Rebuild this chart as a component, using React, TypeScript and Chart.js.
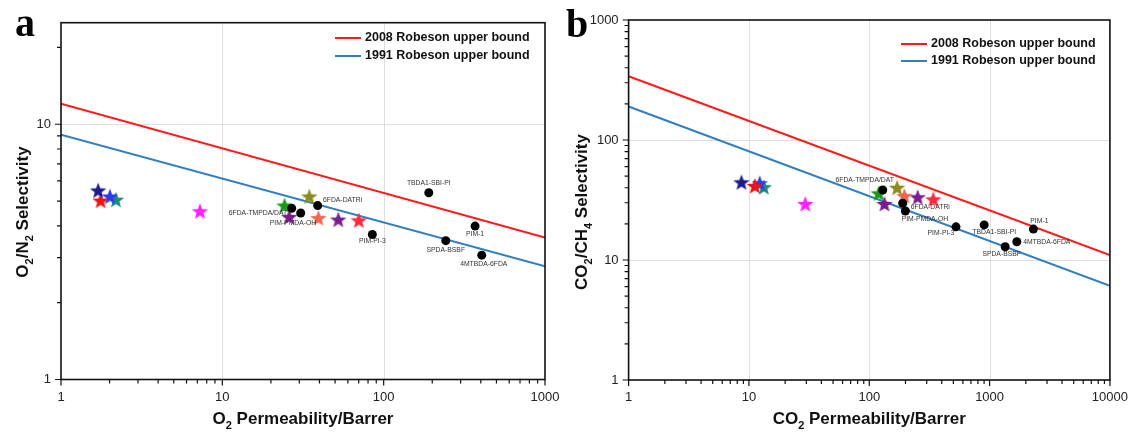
import React, { useEffect, useRef } from 'react';
import { Chart, registerables } from 'chart.js';

Chart.register(...registerables);

// ---------- data ----------
const starColors = ['#1c1c8c', '#ee1414', '#2a3cf0', '#1b8a7e', '#ff22ff', '#1a961a', '#7d1a8c', '#8c8c1e', '#ee6650', '#7a1f8f', '#ff2a40'];

const o2StarX = [1.70, 1.76, 2.01, 2.19, 7.27, 24.3, 26.0, 34.6, 39.4, 52.3, 70.1];
const o2StarY = [5.50, 5.02, 5.21, 5.06, 4.56, 4.80, 4.33, 5.21, 4.29, 4.23, 4.20];

const co2StarX = [8.67, 11.2, 12.3, 13.3, 29.4, 119.9, 133.7, 170.3, 195.8, 252.6, 340.6];
const co2StarY = [44.4, 41.4, 43.6, 40.4, 29.3, 35.9, 29.3, 40.0, 34.1, 33.3, 32.0];

const o2PolyNames = ['6FDA-TMPDA/DAT', 'PIM-PMDA-OH', '6FDA-DATRi', 'TBDA1-SBI-PI', 'PIM-1', 'PIM-PI-3', 'SPDA-BSBF', '4MTBDA-6FDA'];
const o2PolyX = [26.9, 30.6, 39.0, 190.4, 368.6, 85.1, 242.7, 405.5];
const o2PolyY = [4.69, 4.49, 4.80, 5.39, 3.99, 3.70, 3.50, 3.07];

const co2PolyNames = ['6FDA-TMPDA/DAT', '6FDA-DATRi', 'PIM-PMDA-OH', 'PIM-PI-3', 'TBDA1-SBI-PI', 'PIM-1', '4MTBDA-6FDA', 'SPDA-BSBF'];
const co2PolyX = [129.4, 189.6, 199.6, 525.6, 902, 2312, 1684, 1347];
const co2PolyY = [38.3, 29.7, 25.6, 18.9, 19.6, 18.1, 14.2, 12.9];

const o2BoundX = [1, 1000];
const o2Bound2008 = [12.05, 3.6];
const o2Bound1991 = [9.1, 2.78];

const co2BoundX = [1, 10000];
const co2Bound2008 = [340, 11];
const co2Bound1991 = [190, 6.1];

const o2XTicks = [1, 10, 100, 1000];
const o2YTicks = [1, 10];
const co2XTicks = [1, 10, 100, 1000, 10000];
const co2YTicks = [1, 10, 100, 1000];

const legendLabels = ['2008 Robeson upper bound', '1991 Robeson upper bound'];
const legendColors = ['#ff1a1a', '#2f7fc1'];

// ---------- layout / style ----------
const W = 566;
const H = 435;
const SANS = '"Liberation Sans", Arial, sans-serif';

type Part = [string, boolean];
type Place = [number, number, CanvasTextAlign];

interface Panel {
  letter: string;
  letterX: number;
  letterY: number;
  xMin: number; xMax: number; yMin: number; yMax: number;
  xTicks: number[]; yTicks: number[];
  area: { left: number; top: number; right: number; bottom: number };
  xTitle: Part[]; yTitle: Part[];
  yTitleX: number; yTitleY: number;
  legendX: number; legendY: number[];
  starX: number[]; starY: number[];
  polyNames: string[]; polyX: number[]; polyY: number[];
  place: Place[];
  boundX: number[]; b2008: number[]; b1991: number[];
}

const o2Place: Place[] = [[-4.5, 5, 'right'], [-7.7, 10.5, 'center'], [5.3, -6, 'left'], [0, -9.5, 'center'], [0, 8.5, 'center'], [0, 7, 'center'], [0, 9, 'center'], [2, 8.5, 'center']];
const co2Place: Place[] = [[-18, -10, 'center'], [8, 4, 'left'], [19.5, 8.3, 'center'], [-15, 6, 'center'], [10, 7.3, 'center'], [6, -8.3, 'center'], [6.3, 0, 'left'], [-3.5, 7.3, 'center']];

const panels: Panel[] = [
  {
    letter: 'a', letterX: 15, letterY: 36,
    xMin: 1, xMax: 1000, yMin: 1, yMax: 25,
    xTicks: o2XTicks, yTicks: o2YTicks,
    area: { left: 61, top: 22.7, right: 545, bottom: 379.5 },
    xTitle: [['O', false], ['2', true], [' Permeability/Barrer', false]],
    yTitle: [['O', false], ['2', true], ['/N', false], ['2', true], [' Selectivity', false]],
    yTitleX: 22, yTitleY: 212,
    legendX: 335, legendY: [38, 56],
    starX: o2StarX, starY: o2StarY,
    polyNames: o2PolyNames, polyX: o2PolyX, polyY: o2PolyY, place: o2Place,
    boundX: o2BoundX, b2008: o2Bound2008, b1991: o2Bound1991,
  },
  {
    letter: 'b', letterX: 0, letterY: 37,
    xMin: 1, xMax: 10000, yMin: 1, yMax: 1000,
    xTicks: co2XTicks, yTicks: co2YTicks,
    area: { left: 62.6, top: 20, right: 545, bottom: 380 },
    xTitle: [['CO', false], ['2', true], [' Permeability/Barrer', false]],
    yTitle: [['CO', false], ['2', true], ['/CH', false], ['4', true], [' Selectivity', false]],
    yTitleX: 15, yTitleY: 212,
    legendX: 335, legendY: [44, 61],
    starX: co2StarX, starY: co2StarY,
    polyNames: co2PolyNames, polyX: co2PolyX, polyY: co2PolyY, place: co2Place,
    boundX: co2BoundX, b2008: co2Bound2008, b1991: co2Bound1991,
  },
];

function makeStar(color: string): HTMLCanvasElement {
  const R = 8.6;
  const size = Math.ceil(R * 2 + 2);
  const c = document.createElement('canvas');
  c.width = size;
  c.height = size;
  const g = c.getContext('2d')!;
  const cx = size / 2;
  const cy = size / 2 + 0.6;
  const r = R * 0.42;
  g.beginPath();
  for (let i = 0; i < 10; i++) {
    const rad = (Math.PI / 5) * i - Math.PI / 2;
    const rr = i % 2 === 0 ? R : r;
    const px = cx + rr * Math.cos(rad);
    const py = cy + rr * Math.sin(rad);
    if (i === 0) g.moveTo(px, py); else g.lineTo(px, py);
  }
  g.closePath();
  g.fillStyle = color;
  g.fill();
  return c;
}

function drawRich(ctx: CanvasRenderingContext2D, parts: Part[], size: number, cx: number, cy: number) {
  const big = `bold ${size}px ${SANS}`;
  const small = `bold ${Math.round(size * 0.65)}px ${SANS}`;
  let total = 0;
  const widths = parts.map(([t, sub]) => {
    ctx.font = sub ? small : big;
    const w = ctx.measureText(t).width;
    total += w;
    return w;
  });
  let x = cx - total / 2;
  ctx.textAlign = 'left';
  ctx.textBaseline = 'alphabetic';
  const base = cy + size * 0.36;
  parts.forEach(([t, sub], i) => {
    ctx.font = sub ? small : big;
    ctx.fillText(t, x, sub ? base + size * 0.3 : base);
    x += widths[i];
  });
}

function minorValues(min: number, max: number): number[] {
  const out: number[] = [];
  for (let d = min; d < max; d *= 10) {
    for (let k = 2; k <= 9; k++) {
      const v = k * d;
      if (v < max) out.push(v);
    }
  }
  return out;
}

function makeConfig(p: Panel): any {
  const datasets: any[] = [];
  p.polyNames.forEach((n, i) => {
    datasets.push({
      label: n,
      data: [{ x: p.polyX[i], y: p.polyY[i] }],
      pointRadius: 4.5,
      pointBackgroundColor: '#000',
      pointBorderWidth: 0,
      order: 0,
    });
  });
  p.starX.forEach((x, i) => {
    datasets.push({
      label: 'star' + i,
      data: [{ x, y: p.starY[i] }],
      pointStyle: makeStar(starColors[i]),
      pointRadius: 8,
      order: 1,
    });
  });
  [p.b2008, p.b1991].forEach((b, i) => {
    datasets.push({
      label: legendLabels[i],
      data: p.boundX.map((x, j) => ({ x, y: b[j] })),
      showLine: true,
      borderColor: legendColors[i],
      borderWidth: 2,
      pointRadius: 0,
      order: 2,
    });
  });

  const decor = {
    id: 'decor' + p.letter,
    beforeDatasetsDraw(chart: any) {
      const ctx: CanvasRenderingContext2D = chart.ctx;
      const xs = chart.scales.x;
      const ys = chart.scales.y;
      const a = chart.chartArea;
      ctx.save();
      ctx.strokeStyle = '#dedede';
      ctx.lineWidth = 1;
      p.xTicks.forEach((v) => {
        if (v <= p.xMin || v >= p.xMax) return;
        const px = Math.round(xs.getPixelForValue(v)) + 0.5;
        ctx.beginPath(); ctx.moveTo(px, a.top); ctx.lineTo(px, a.bottom); ctx.stroke();
      });
      p.yTicks.forEach((v) => {
        if (v <= p.yMin || v >= p.yMax) return;
        const py = Math.round(ys.getPixelForValue(v)) + 0.5;
        ctx.beginPath(); ctx.moveTo(a.left, py); ctx.lineTo(a.right, py); ctx.stroke();
      });
      ctx.restore();
    },
    afterDatasetsDraw(chart: any) {
      const ctx: CanvasRenderingContext2D = chart.ctx;
      const xs = chart.scales.x;
      const ys = chart.scales.y;
      const a = chart.chartArea;
      ctx.save();
      // frame
      ctx.strokeStyle = '#111';
      ctx.lineWidth = 1.6;
      ctx.strokeRect(a.left, a.top, a.right - a.left, a.bottom - a.top);
      // ticks
      ctx.lineWidth = 1.2;
      ctx.beginPath();
      p.xTicks.forEach((v) => {
        const px = xs.getPixelForValue(v);
        ctx.moveTo(px, a.bottom); ctx.lineTo(px, a.bottom + 6);
      });
      minorValues(p.xMin, p.xMax).forEach((v) => {
        const px = xs.getPixelForValue(v);
        ctx.moveTo(px, a.bottom); ctx.lineTo(px, a.bottom + 4);
      });
      p.yTicks.forEach((v) => {
        const py = ys.getPixelForValue(v);
        ctx.moveTo(a.left, py); ctx.lineTo(a.left - 6, py);
      });
      minorValues(p.yMin, p.yMax).forEach((v) => {
        const py = ys.getPixelForValue(v);
        ctx.moveTo(a.left, py); ctx.lineTo(a.left - 4, py);
      });
      ctx.stroke();

      // point labels
      ctx.fillStyle = '#333';
      ctx.font = `6.8px ${SANS}`;
      ctx.textBaseline = 'middle';
      p.polyNames.forEach((n, i) => {
        const px = xs.getPixelForValue(p.polyX[i]);
        const py = ys.getPixelForValue(p.polyY[i]);
        const [dx, dy, al] = p.place[i];
        ctx.textAlign = al;
        ctx.fillText(n, px + dx, py + dy);
      });

      // legend
      legendLabels.forEach((l, i) => {
        const y = p.legendY[i];
        ctx.strokeStyle = legendColors[i];
        ctx.lineWidth = 2;
        ctx.beginPath();
        ctx.moveTo(p.legendX, y); ctx.lineTo(p.legendX + 26, y);
        ctx.stroke();
        ctx.fillStyle = '#111';
        ctx.font = `bold 12.5px ${SANS}`;
        ctx.textAlign = 'left';
        ctx.textBaseline = 'middle';
        ctx.fillText(l, p.legendX + 30, y);
      });

      // axis titles
      ctx.fillStyle = '#111';
      drawRich(ctx, p.xTitle, 17, (a.left + a.right) / 2, 418);
      ctx.save();
      ctx.translate(p.yTitleX, p.yTitleY);
      ctx.rotate(-Math.PI / 2);
      drawRich(ctx, p.yTitle, 17, 0, 0);
      ctx.restore();

      // panel letter
      ctx.fillStyle = '#000';
      ctx.font = `bold 40px "Liberation Serif", "DejaVu Serif", serif`;
      ctx.textAlign = 'left';
      ctx.textBaseline = 'alphabetic';
      ctx.fillText(p.letter, p.letterX, p.letterY);
      ctx.restore();
    },
  };

  const tickFont = { family: SANS, size: 13 };
  return {
    type: 'scatter',
    data: { datasets },
    options: {
      animation: false,
      responsive: false,
      maintainAspectRatio: false,
      layout: { padding: { left: 0, top: p.area.top, right: W - p.area.right, bottom: 0 } },
      plugins: { legend: { display: false }, tooltip: { enabled: false }, title: { display: false } },
      scales: {
        x: {
          type: 'logarithmic',
          position: 'bottom',
          min: p.xMin,
          max: p.xMax,
          afterBuildTicks: (s: any) => { s.ticks = p.xTicks.map((v) => ({ value: v })); },
          afterFit: (s: any) => { s.height = H - p.area.bottom; },
          grid: { display: true, drawOnChartArea: false, drawTicks: true, tickLength: 6, color: 'rgba(0,0,0,0)', tickColor: 'rgba(0,0,0,0)' },
          border: { display: false },
          ticks: { font: tickFont, color: '#222', padding: 4, maxRotation: 0, autoSkip: false, callback: (v: any) => String(v) },
        },
        y: {
          type: 'logarithmic',
          position: 'left',
          min: p.yMin,
          max: p.yMax,
          afterBuildTicks: (s: any) => { s.ticks = p.yTicks.map((v) => ({ value: v })); },
          afterFit: (s: any) => { s.width = p.area.left; },
          grid: { display: true, drawOnChartArea: false, drawTicks: true, tickLength: 6, color: 'rgba(0,0,0,0)', tickColor: 'rgba(0,0,0,0)' },
          border: { display: false },
          ticks: { font: tickFont, color: '#222', padding: 4, autoSkip: false, callback: (v: any) => String(v) },
        },
      },
    },
    plugins: [decor],
  };
}

function PanelChart({ panel, left }: { panel: Panel; left: number }) {
  const ref = useRef<HTMLCanvasElement>(null);
  useEffect(() => {
    if (!ref.current) return;
    const chart = new Chart(ref.current, makeConfig(panel));
    return () => chart.destroy();
  }, [panel]);
  return (
    <canvas
      ref={ref}
      width={W}
      height={H}
      style={{ position: 'absolute', left, top: 0, width: W, height: H }}
    />
  );
}

export default function App() {
  return (
    <div style={{ position: 'absolute', left: 0, top: 0, width: 1132, height: 435, background: '#fff' }}>
      <PanelChart panel={panels[0]} left={0} />
      <PanelChart panel={panels[1]} left={566} />
    </div>
  );
}
